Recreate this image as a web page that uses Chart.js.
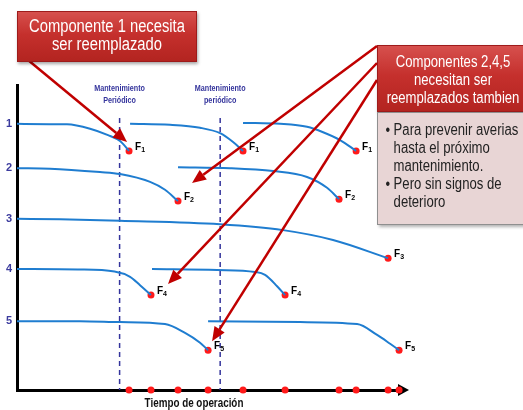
<!DOCTYPE html>
<html>
<head>
<meta charset="utf-8">
<script src="https://cdn.jsdelivr.net/npm/chart.js@4/dist/chart.umd.min.js"></script>
<style>
  html, body { margin: 0; padding: 0; background: #fff; }
  #wrap { position: relative; width: 523px; height: 410px; overflow: hidden;
          font-family: "Liberation Sans", Arial, sans-serif; }
  #wrap canvas { position: absolute; left: 0; top: 0; }
  .callout { position: absolute; box-sizing: border-box; color: #fff;
             background: linear-gradient(#d6504d, #c5302d 45%, #b32420);
             border: 1px solid #9e1b1b; box-shadow: 1px 2px 3px rgba(0,0,0,0.35); }
  /* condensed text: drawn wider, then squeezed horizontally */
  .squeeze { position: absolute; left: 0; top: 0; transform: scaleX(0.82); transform-origin: left top;
             white-space: nowrap; box-sizing: border-box; }
  #callout1 { left: 17px; top: 11px; width: 180px; height: 51px; }
  #callout1 .squeeze { width: 217px; text-align: center; font-size: 18px; line-height: 18px; padding-top: 5px; }
  #callout2 { left: 377px; top: 45px; width: 150px; height: 67px; }
  #callout2 .squeeze { width: 183px; text-align: center; font-size: 16px; line-height: 18px; padding-top: 7px; }
  #note { position: absolute; box-sizing: border-box; left: 377px; top: 112px; width: 150px; height: 113px;
          background: #e8d5d5; border: 1px solid #8f8f8f; box-shadow: 2px 2px 3px rgba(0,0,0,0.3); color: #222; }
  #note .squeeze { width: 183px; font-size: 16px; line-height: 18px; padding: 8px 0 0 19px; }
  #note .item { position: relative; }
  #note .item::before { content: "\2022"; position: absolute; left: -10px; top: 0; }
</style>
</head>
<body>
<div id="wrap">
  <canvas id="chart" width="523" height="410"></canvas>
  <div class="callout" id="callout1"><div class="squeeze">Componente 1 necesita<br>ser reemplazado</div></div>
  <div class="callout" id="callout2"><div class="squeeze">Componentes 2,4,5<br>necesitan ser<br>reemplazados tambien</div></div>
  <div id="note"><div class="squeeze">
    <div class="item">Para prevenir averias<br>hasta el próximo<br>mantenimiento.</div>
    <div class="item">Pero sin signos de<br>deterioro</div>
  </div></div>
</div>
<script>
// Condition level labels on the vertical axis and the level each new component starts at
const levelTicks = ['1', '2', '3', '4', '5'];
const baseLevels = [0.99, 1.89, 2.92, 3.94, 5.0];

// Scheduled maintenance times
const maintenanceTimes = [10.1, 20.0];
const maintenanceLabels = [['Mantenimiento', 'Periódico'], ['Mantenimiento', 'periódico']];

const axisTitle = 'Tiempo de operación';

// Degradation curves: [operating time, condition]; the last point is the failure F
const comp1Life1 = [[0, 0.99], [4.92, 1.0], [7.19, 1.09], [8.96, 1.22], [10.14, 1.34], [11.03, 1.54]];
const comp1Life2 = [[11.13, 0.99], [15.06, 1.01], [18.02, 1.07], [19.99, 1.18], [21.27, 1.36], [22.25, 1.54]];
const comp1Life3 = [[22.25, 0.97], [25.9, 0.99], [28.55, 1.05], [30.13, 1.16], [31.8, 1.32], [33.38, 1.54]];
const comp2Life1 = [[0, 1.89], [3.25, 1.9], [8.17, 1.97], [10.14, 2.01], [13.1, 2.17], [14.57, 2.33], [15.85, 2.56]];
const comp2Life2 = [[15.85, 1.87], [20.97, 1.89], [25.21, 1.95], [28.55, 2.07], [30.52, 2.29], [31.7, 2.52]];
const comp3Life1 = [[0, 2.92], [4.23, 2.93], [10.14, 2.96], [19.99, 3.03], [26.19, 3.15], [31.11, 3.35], [36.53, 3.72]];
const comp4Life1 = [[0, 3.94], [6.0, 3.95], [9.6, 3.99], [11.13, 4.1], [12.11, 4.27], [13.19, 4.47]];
const comp4Life2 = [[13.29, 3.94], [19.7, 3.96], [23.43, 4.0], [24.42, 4.06], [25.6, 4.29], [26.39, 4.47]];
const comp5Life1 = [[0, 5.0], [6.2, 5.0], [10.14, 5.02], [14.57, 5.06], [16.54, 5.24], [18.02, 5.44], [18.81, 5.59]];
const comp5Life2 = [[18.81, 5.0], [27.87, 5.02], [33.48, 5.06], [35.45, 5.28], [36.73, 5.46], [37.61, 5.59]];

const lives = [
  { comp: 1, pts: comp1Life1 }, { comp: 1, pts: comp1Life2 }, { comp: 1, pts: comp1Life3 },
  { comp: 2, pts: comp2Life1 }, { comp: 2, pts: comp2Life2 },
  { comp: 3, pts: comp3Life1 },
  { comp: 4, pts: comp4Life1 }, { comp: 4, pts: comp4Life2 },
  { comp: 5, pts: comp5Life1 }, { comp: 5, pts: comp5Life2 }
];

// Callout arrows: start next to the boxes, end beside a failure point
const calloutArrows = [
  { from: [28, 60], life: 0, tipOffset: [-2, -9] },
  { from: [377, 46], life: 3, tipOffset: [14, -18] },
  { from: [377, 63], life: 6, tipOffset: [17, -11] },
  { from: [377, 80], life: 8, tipOffset: [4, -9] }
];

const Y_MIN = 0.2, Y_MAX = 6.4, X_MAX = 37.8;
const curveColor = '#1f7dd0';
const failColor = '#ff1a1a';
const arrowColor = '#c00000';
const navy = '#34349c';

const failures = lives.map(l => {
  const p = l.pts[l.pts.length - 1];
  return { x: p[0], y: p[1] };
});

const datasets = lives.map(l => ({
  data: l.pts.map(([x, y]) => ({ x, y })),
  showLine: true,
  borderColor: curveColor,
  borderWidth: 2,
  pointRadius: 0,
  cubicInterpolationMode: 'monotone',
  clip: false
}));
datasets.push({
  data: failures,
  pointRadius: 3.5,
  pointBackgroundColor: failColor,
  pointBorderWidth: 0,
  clip: false
});
datasets.push({
  data: failures.map(f => ({ x: f.x, y: Y_MAX })),
  pointRadius: 3.5,
  pointBackgroundColor: failColor,
  pointBorderWidth: 0,
  clip: false
});

function arrow(ctx, x0, y0, x1, y1, color, width, headLen, headW) {
  const a = Math.atan2(y1 - y0, x1 - x0);
  const bx = x1 - Math.cos(a) * headLen, by = y1 - Math.sin(a) * headLen;
  ctx.save();
  ctx.strokeStyle = color; ctx.fillStyle = color; ctx.lineWidth = width;
  ctx.beginPath(); ctx.moveTo(x0, y0); ctx.lineTo(bx, by); ctx.stroke();
  ctx.beginPath();
  ctx.moveTo(x1, y1);
  ctx.lineTo(bx + Math.sin(a) * headW / 2, by - Math.cos(a) * headW / 2);
  ctx.lineTo(bx - Math.sin(a) * headW / 2, by + Math.cos(a) * headW / 2);
  ctx.closePath(); ctx.fill();
  ctx.restore();
}

// text squeezed horizontally around its centre
function narrowText(ctx, s, cx, cy, sx) {
  ctx.save();
  ctx.translate(cx, cy);
  ctx.scale(sx, 1);
  ctx.fillText(s, 0, 0);
  ctx.restore();
}

const diagram = {
  id: 'diagram',
  beforeDatasetsDraw(chart) {
    const { ctx, chartArea, scales: { x, y } } = chart;
    ctx.save();
    // maintenance lines and their captions
    maintenanceTimes.forEach((t, i) => {
      const px = x.getPixelForValue(t);
      ctx.strokeStyle = navy; ctx.lineWidth = 1.5; ctx.setLineDash([5, 4]);
      ctx.beginPath(); ctx.moveTo(px, chartArea.top + 33); ctx.lineTo(px, chartArea.bottom); ctx.stroke();
      ctx.setLineDash([]);
      ctx.fillStyle = navy; ctx.font = 'bold 9px "Liberation Sans", sans-serif';
      ctx.textAlign = 'center'; ctx.textBaseline = 'middle';
      maintenanceLabels[i].forEach((s, k) => narrowText(ctx, s, px, chartArea.top + 4 + k * 12, 0.8));
    });
    // arrow head of the time axis
    const ay = y.getPixelForValue(Y_MAX);
    ctx.fillStyle = '#000';
    ctx.beginPath();
    ctx.moveTo(chartArea.right - 3, ay - 6);
    ctx.lineTo(chartArea.right + 8, ay);
    ctx.lineTo(chartArea.right - 3, ay + 6);
    ctx.closePath(); ctx.fill();
    // axis title
    ctx.fillStyle = '#111';
    ctx.font = 'bold 12px "Liberation Sans", sans-serif';
    ctx.textAlign = 'center'; ctx.textBaseline = 'middle';
    narrowText(ctx, axisTitle, 194, chartArea.bottom + 14, 0.82);
    ctx.restore();
  },
  afterDatasetsDraw(chart) {
    const { ctx, scales: { x, y } } = chart;
    ctx.save();
    // failure labels F with the component number as subscript
    ctx.fillStyle = '#000'; ctx.textAlign = 'left'; ctx.textBaseline = 'alphabetic';
    lives.forEach((l, i) => {
      const px = x.getPixelForValue(failures[i].x), py = y.getPixelForValue(failures[i].y);
      ctx.font = 'bold 10px "Liberation Sans", sans-serif';
      ctx.fillText('F', px + 6, py - 1);
      const w = ctx.measureText('F').width;
      ctx.font = 'bold 7px "Liberation Sans", sans-serif';
      ctx.fillText(String(l.comp), px + 6 + w, py + 1);
    });
    // callout arrows
    calloutArrows.forEach(a => {
      const f = failures[a.life];
      const tx = x.getPixelForValue(f.x) + a.tipOffset[0];
      const ty = y.getPixelForValue(f.y) + a.tipOffset[1];
      arrow(ctx, a.from[0], a.from[1], tx, ty, arrowColor, 2.5, 14, 12);
    });
    ctx.restore();
  }
};

new Chart(document.getElementById('chart'), {
  type: 'scatter',
  data: { datasets },
  options: {
    responsive: false,
    animation: false,
    events: [],
    layout: { padding: { top: 85, right: 122, bottom: 20, left: 0 } },
    plugins: { legend: { display: false }, tooltip: { enabled: false } },
    scales: {
      x: {
        type: 'linear', min: 0, max: X_MAX,
        grid: { display: false, drawTicks: false },
        border: { color: '#000', width: 3 },
        ticks: { display: false },
        afterFit(s) { s.height = 0; }
      },
      y: {
        type: 'linear', min: Y_MIN, max: Y_MAX, reverse: true,
        grid: { display: false, drawTicks: false },
        border: { color: '#000', width: 3 },
        afterBuildTicks(s) { s.ticks = baseLevels.map(v => ({ value: v })); },
        afterFit(s) { s.width = 17; },
        ticks: {
          color: '#3b3b9e', padding: 5,
          font: { family: '"Liberation Sans", sans-serif', size: 11, weight: 'bold' },
          callback: (v, i) => levelTicks[i]
        }
      }
    }
  },
  plugins: [diagram]
});
</script>
</body>
</html>
